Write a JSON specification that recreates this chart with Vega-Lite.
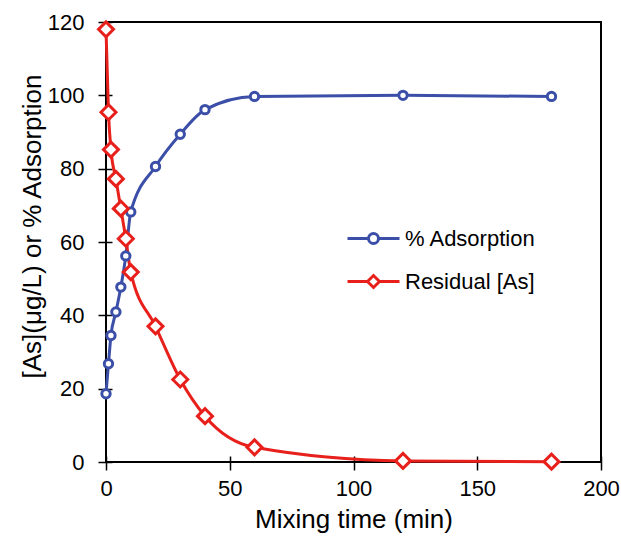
{
  "$schema": "https://vega.github.io/schema/vega-lite/v6.json",
  "width": 495,
  "height": 440,
  "autosize": {"type": "none"},
  "padding": {"left": 106, "top": 22, "right": 20, "bottom": 77},
  "background": "white",
  "config": {
    "view": {"stroke": "black", "strokeWidth": 2},
    "font": "Liberation Sans",
    "axis": {
      "domain": false,
      "grid": false,
      "ticks": true,
      "tickColor": "black",
      "tickWidth": 1.5,
      "tickSize": 14,
      "offset": -6,
      "labelFlush": false,
      "labelOverlap": false,
      "labelFont": "Liberation Sans",
      "labelFontSize": 22,
      "labelColor": "black",
      "titleFont": "Liberation Sans",
      "titleFontSize": 26,
      "titleFontWeight": "normal",
      "titleColor": "black"
    },
    "legend": {
      "orient": "none",
      "legendX": 246,
      "legendY": 195,
      "title": null,
      "padding": 0,
      "symbolSize": 1600,
      "symbolStrokeWidth": 3,
      "symbolOpacity": 1,
      "symbolFillColor": "white",
      "rowPadding": 10,
      "labelOffset": 10,
      "labelFont": "Liberation Sans",
      "labelFontSize": 22,
      "labelColor": "black"
    }
  },
  "data": {
    "values": [
      {"t": 0, "v": 18.6, "s": "% Adsorption"},
      {"t": 1, "v": 26.8, "s": "% Adsorption"},
      {"t": 2, "v": 34.5, "s": "% Adsorption"},
      {"t": 4, "v": 40.9, "s": "% Adsorption"},
      {"t": 6, "v": 47.7, "s": "% Adsorption"},
      {"t": 8, "v": 56.2, "s": "% Adsorption"},
      {"t": 10, "v": 68.2, "s": "% Adsorption"},
      {"t": 20, "v": 80.6, "s": "% Adsorption"},
      {"t": 30, "v": 89.4, "s": "% Adsorption"},
      {"t": 40, "v": 96.1, "s": "% Adsorption"},
      {"t": 60, "v": 99.7, "s": "% Adsorption"},
      {"t": 120, "v": 100, "s": "% Adsorption"},
      {"t": 180, "v": 99.7, "s": "% Adsorption"},
      {"t": 0, "v": 118, "s": "Residual [As]"},
      {"t": 1, "v": 95.4, "s": "Residual [As]"},
      {"t": 2, "v": 85.2, "s": "Residual [As]"},
      {"t": 4, "v": 77.2, "s": "Residual [As]"},
      {"t": 6, "v": 69.1, "s": "Residual [As]"},
      {"t": 8, "v": 60.9, "s": "Residual [As]"},
      {"t": 10, "v": 51.8, "s": "Residual [As]"},
      {"t": 20, "v": 37, "s": "Residual [As]"},
      {"t": 30, "v": 22.5, "s": "Residual [As]"},
      {"t": 40, "v": 12.5, "s": "Residual [As]"},
      {"t": 60, "v": 4, "s": "Residual [As]"},
      {"t": 120, "v": 0.3, "s": "Residual [As]"},
      {"t": 180, "v": 0.1, "s": "Residual [As]"}
    ]
  },
  "encoding": {
    "x": {
      "field": "t",
      "type": "quantitative",
      "scale": {"domain": [0, 200], "nice": false},
      "axis": {"values": [0, 50, 100, 150, 200], "title": "Mixing time (min)", "labelPadding": 8, "titlePadding": 7}
    },
    "y": {
      "field": "v",
      "type": "quantitative",
      "scale": {"domain": [0, 120], "nice": false},
      "axis": {"values": [0, 20, 40, 60, 80, 100, 120], "title": "[As](μg/L) or % Adsorption", "labelPadding": 14, "titlePadding": 2, "titleY": 204}
    }
  },
  "layer": [
    {
      "transform": [{"filter": "datum.s === '% Adsorption'"}],
      "mark": {"type": "line", "interpolate": "monotone", "strokeWidth": 3, "color": "#3c4fa8"}
    },
    {
      "transform": [{"filter": "datum.s === 'Residual [As]'"}],
      "mark": {"type": "line", "interpolate": "monotone", "strokeWidth": 3, "color": "#e8201c"}
    },
    {
      "transform": [{"filter": "datum.s === '% Adsorption'"}],
      "mark": {"type": "point", "shape": "circle", "size": 70, "filled": false, "fill": "white", "fillOpacity": 1, "stroke": "#3c4fa8", "strokeWidth": 3, "opacity": 1}
    },
    {
      "transform": [{"filter": "datum.s === 'Residual [As]'"}],
      "mark": {"type": "point", "shape": "diamond", "size": 225, "filled": false, "fill": "white", "fillOpacity": 1, "stroke": "#e8201c", "strokeWidth": 3, "opacity": 1}
    },
    {
      "mark": {"type": "point", "filled": false, "opacity": 0, "strokeWidth": 3},
      "encoding": {
        "color": {
          "field": "s",
          "type": "nominal",
          "scale": {"domain": ["% Adsorption", "Residual [As]"], "range": ["#3c4fa8", "#e8201c"]}
        },
        "shape": {
          "field": "s",
          "type": "nominal",
          "scale": {
            "domain": ["% Adsorption", "Residual [As]"],
            "range": [
              "M-1.3,0H-0.25M0.25,0H1.3M-0.25,0A0.25,0.25 0 1,0 0.25,0A0.25,0.25 0 1,0 -0.25,0Z",
              "M-1.3,0H-0.3M0.3,0H1.3M-0.3,0L0,-0.3L0.3,0L0,0.3Z"
            ]
          }
        }
      }
    }
  ]
}
